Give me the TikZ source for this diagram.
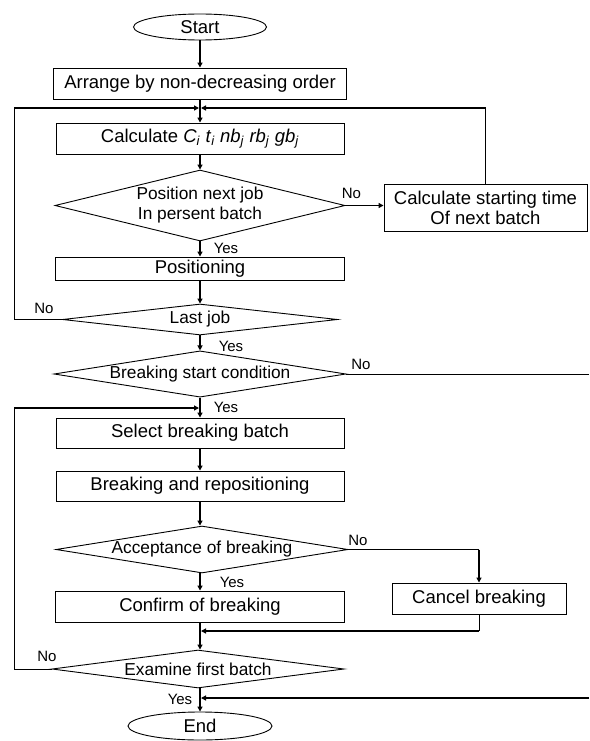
\documentclass[tikz,border=0pt]{standalone}
\usepackage{fontspec}
\setmainfont{Liberation Sans}
\usetikzlibrary{shapes.geometric,arrows.meta}
\tikzset{font=\fontsize{18.5}{20}\selectfont}
\newcommand{\varsub}[2]{\textit{#1}\textsubscript{\textit{#2}}}

\begin{document}
\begin{tikzpicture}[x=1pt,y=-1pt,>={Triangle[length=5pt,width=5pt]},
    every node/.style={inner sep=0pt},
    proc/.style={draw,line width=0.9pt,minimum height={31pt}},
    decision/.style={draw,diamond,aspect=6,line width=0.9pt,font=\fontsize{17.3}{20}\selectfont},
    term/.style={draw,ellipse,line width=0.9pt},
    flow/.style={->,line width=1.8pt},
    line/.style={line width=0.9pt},
    lbl/.style={font=\fontsize{15}{17}\selectfont}]
      \useasboundingbox (0,0) rectangle (589,741);

      \node[term,minimum width={133pt},minimum height={26pt}] (S) at (200,27) {Start};
      \node[proc,minimum width={293pt}] (A) at (200,83.5) {Arrange by non-decreasing order};
      \node[proc,minimum width={288pt}] (C) at (200,138.5) {Calculate \varsub{C}{i} \varsub{t}{i} \varsub{nb}{j} \varsub{rb}{j} \varsub{gb}{j}};
      \node[decision,aspect=4,minimum width={290pt},minimum height={71pt},align=center] (D1) at (200,205.5) {Position next job\\In persent batch};
      \node[proc,minimum width={203pt},minimum height={47pt},align=center] (T) at (485.5,207.5) {Calculate starting time\\Of next batch};
      \node[proc,minimum width={289pt},minimum height={23pt}] (P) at (200,268.5) {Positioning};
      \node[decision,minimum width={275pt},minimum height={31pt}] (D2) at (200,319.5) {Last job};
      \node[decision,minimum width={292pt},minimum height={46pt}] (D3) at (200,374) {Breaking start condition};
      \node[proc,minimum width={288pt},minimum height={30pt}] (B1) at (200,433) {Select breaking batch};
      \node[proc,minimum width={288pt},minimum height={30pt}] (B2) at (200,486) {Breaking and repositioning};
      \node[decision,minimum width={292pt},minimum height={47pt}] (D4) at (202,549.5) {Acceptance of breaking};
      \node[proc,minimum width={289pt}] (F) at (200,606.5) {Confirm of breaking};
      \node[proc,minimum width={174pt}] (X) at (479,598.5) {Cancel breaking};
      \node[decision,minimum width={292pt},minimum height={38pt}] (D5) at (198,669) {Examine first batch};
      \node[term,minimum width={144pt},minimum height={28pt}] (E) at (200,726) {End};

      \coordinate (L) at (14,0);
      \coordinate (R) at (589,0);
      \coordinate (J1) at (200,108);
      \coordinate (J2) at (200,408);
      \coordinate (J3) at (200,631);
      \coordinate (J4) at (200,698);

      \node[lbl] (N1) at (351.5,193) {No};
      \node[lbl] (Y1) at (226,248) {Yes};
      \node[lbl] (N2) at (44,308) {No};
      \node[lbl] (Y2) at (231,346) {Yes};
      \node[lbl] (N3) at (361,364) {No};
      \node[lbl] (Y3) at (226,407) {Yes};
      \node[lbl] (N4) at (358,540) {No};
      \node[lbl] (Y4) at (232,582) {Yes};
      \node[lbl] (N5) at (47,656) {No};
      \node[lbl] (Y5) at (180,699) {Yes};

      \path [flow](S) edge (A);
      \path [flow](A) edge (C);
      \path [flow](C) edge (D1);
      \path [flow](D1) edge (P);
      \path [flow](P) edge (D2);
      \path [flow](D2) edge (D3);
      \path [flow](D3) edge (B1);
      \path [flow](B1) edge (B2);
      \path [flow](B2.south) edge (B2.south |- D4.north);
      \path [flow](D4.south -| B2.south) edge (F);
      \path [flow](F) edge (D5.north -| F);
      \path [flow](D5.south -| F) edge (E);

      \draw [flow](D1.east) -- (D1.east -| T.west);
      \draw [line](T.north) -- (T.north |- J1);
      \draw [flow,shorten >=1pt](T.north |- J1) -- (J1);
      \draw [line](D2.west) -| (L |- J1);
      \draw [flow,shorten >=1pt](L |- J1) -- (J1);

      \draw [line](D3.east) -- (D3.east -| R);
      \draw [line](D5.west) -| (L |- J2);
      \draw [flow,shorten >=1pt](L |- J2) -- (J2);

      \draw [line](D4.east) -- (D4.east -| X.north);
      \draw [flow](D4.east -| X.north) -- (X.north);
      \draw [line](X.south) -- (X.south |- J3);
      \draw [flow,shorten >=1pt](X.south |- J3) -- (J3);
      \draw [flow,shorten >=1pt](R |- J4) -- (J4);
\end{tikzpicture}
\end{document}
